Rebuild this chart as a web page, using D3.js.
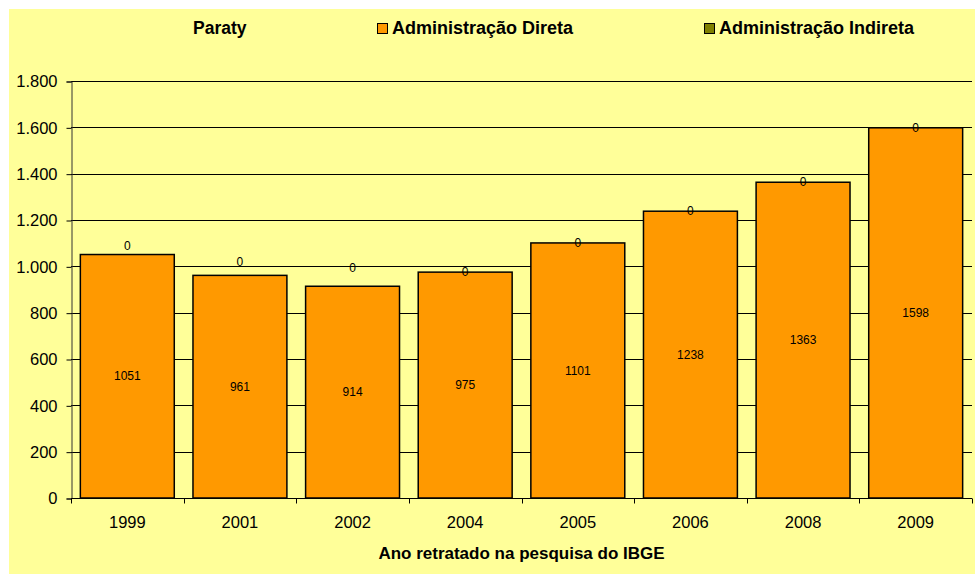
<!DOCTYPE html>
<html>
<head>
<meta charset="utf-8">
<script src="https://cdn.jsdelivr.net/npm/d3@7"></script>
<style>
  body { margin: 0; background: #fff; }
  svg { font-family: "Liberation Sans", Arial, sans-serif; }
  .tick text { fill: #000; }
</style>
</head>
<body>
<svg id="chart" width="975" height="574"></svg>
<script>
// data
var years = ["1999", "2001", "2002", "2004", "2005", "2006", "2008", "2009"];
var direta = [1051, 961, 914, 975, 1101, 1238, 1363, 1598];
var indireta = [0, 0, 0, 0, 0, 0, 0, 0];
// where the "0" labels of the indireta series sit (in axis units)
var indiretaLabelAt = [1089, 1020, 994, 975, 1101, 1238, 1363, 1598];
var yTicks = [0, 200, 400, 600, 800, 1000, 1200, 1400, 1600, 1800];

var W = 975, H = 574;
var plotLeft = 71, plotRight = 972, plotTop = 81, plotBottom = 498;

var svg = d3.select("#chart");

// background
svg.append("rect")
  .attr("x", 9).attr("y", 9)
  .attr("width", W - 9).attr("height", H - 9)
  .attr("fill", "#FFFF99");

var x = d3.scaleBand()
  .domain(years)
  .range([plotLeft, plotRight])
  .paddingInner(0.166)
  .paddingOuter(0.083);

var y = d3.scaleLinear()
  .domain([0, 1800])
  .range([plotBottom, plotTop]);

var loc = d3.formatLocale({ decimal: ",", thousands: ".", grouping: [3], currency: ["R$", ""] });
var fmt = loc.format(",");

// gridlines
svg.append("g")
  .selectAll("line")
  .data(yTicks.slice(1))
  .enter()
  .append("line")
  .attr("x1", plotLeft).attr("x2", plotRight)
  .attr("y1", function(d) { return Math.round(y(d)) + 0.5; })
  .attr("y2", function(d) { return Math.round(y(d)) + 0.5; })
  .attr("stroke", "#000")
  .attr("stroke-width", 1);

// y axis
var yAxis = svg.append("g")
  .attr("transform", "translate(" + (plotLeft + 0.5) + ",0.5)")
  .call(d3.axisLeft(y).tickValues(yTicks).tickFormat(fmt).tickSize(5).tickPadding(9));
yAxis.select(".domain").attr("stroke", "#333");
yAxis.selectAll(".tick line").attr("stroke", "#000");
yAxis.selectAll(".tick text").attr("font-size", 16.5);

// bars
var rows = years.map(function(d, i) {
  return { year: d, direta: direta[i], indireta: indireta[i], labelAt: indiretaLabelAt[i] };
});

var bars = svg.append("g")
  .selectAll("g")
  .data(rows)
  .enter()
  .append("g");

bars.append("rect")
  .attr("x", function(d) { return x(d.year); })
  .attr("y", function(d) { return y(d.direta); })
  .attr("width", x.bandwidth())
  .attr("height", function(d) { return y(0) - y(d.direta); })
  .attr("fill", "#FF9900")
  .attr("stroke", "#000")
  .attr("stroke-width", 1.5);

// indireta segment (zero height, stacked on top)
bars.append("rect")
  .attr("x", function(d) { return x(d.year); })
  .attr("y", function(d) { return y(d.direta + d.indireta); })
  .attr("width", x.bandwidth())
  .attr("height", function(d) { return y(d.direta) - y(d.direta + d.indireta); })
  .attr("fill", "#808000");

// value labels
bars.append("text")
  .attr("x", function(d) { return x(d.year) + x.bandwidth() / 2; })
  .attr("y", function(d) { return y(d.direta / 2); })
  .attr("dy", "0.35em")
  .attr("text-anchor", "middle")
  .attr("font-size", 12)
  .text(function(d) { return d.direta; });

bars.append("text")
  .attr("x", function(d) { return x(d.year) + x.bandwidth() / 2; })
  .attr("y", function(d) { return y(d.labelAt); })
  .attr("dy", "0.35em")
  .attr("text-anchor", "middle")
  .attr("font-size", 12)
  .text(function(d) { return d.indireta; });

// x axis
var xAxis = svg.append("g")
  .attr("transform", "translate(0," + (plotBottom + 0.5) + ")");
xAxis.append("line")
  .attr("x1", plotLeft).attr("x2", plotRight)
  .attr("stroke", "#000");
var bounds = years.map(function(d) { return x(d) - x.step() * x.paddingInner() / 2; });
bounds.push(plotRight);
xAxis.selectAll(".xt")
  .data(bounds)
  .enter()
  .append("line")
  .attr("x1", function(d) { return Math.round(d) + 0.5; })
  .attr("x2", function(d) { return Math.round(d) + 0.5; })
  .attr("y1", 0).attr("y2", 5)
  .attr("stroke", "#000");
xAxis.selectAll(".xl")
  .data(years)
  .enter()
  .append("text")
  .attr("x", function(d) { return x(d) + x.bandwidth() / 2; })
  .attr("y", 24)
  .attr("dy", "0.35em")
  .attr("text-anchor", "middle")
  .attr("font-size", 16.5)
  .text(function(d) { return d; });

// axis title
svg.append("text")
  .attr("x", (plotLeft + plotRight) / 2)
  .attr("y", 553)
  .attr("dy", "0.35em")
  .attr("text-anchor", "middle")
  .attr("font-size", 17)
  .attr("font-weight", "bold")
  .text("Ano retratado na pesquisa do IBGE");

// legend
var legend = svg.append("g");
legend.append("text")
  .attr("x", 193).attr("y", 28)
  .attr("dy", "0.35em")
  .attr("font-size", 17.5)
  .attr("font-weight", "bold")
  .text("Paraty");

var legendItems = [
  { name: "Administração Direta", color: "#FF9900", x: 377 },
  { name: "Administração Indireta", color: "#808000", x: 704 }
];
legendItems.forEach(function(it) {
  legend.append("rect")
    .attr("x", it.x + 0.5).attr("y", 23.5)
    .attr("width", 10).attr("height", 10)
    .attr("fill", it.color)
    .attr("stroke", "#000");
  legend.append("text")
    .attr("x", it.x + 15).attr("y", 28)
    .attr("dy", "0.35em")
    .attr("font-size", 18)
    .attr("font-weight", "bold")
    .text(it.name);
});
</script>
</body>
</html>
